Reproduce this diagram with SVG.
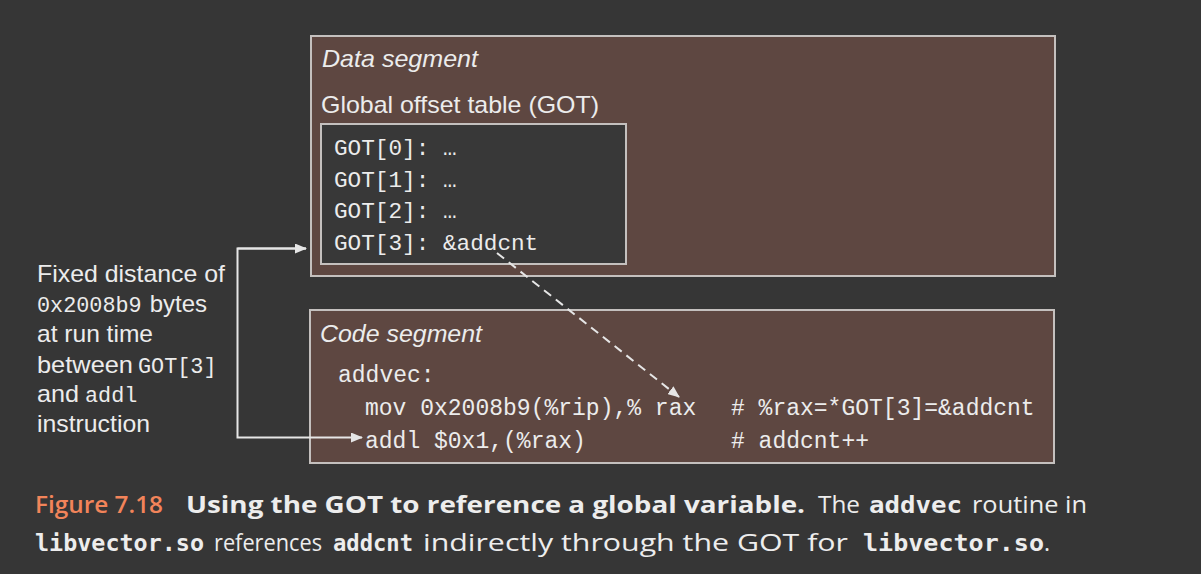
<svg xmlns="http://www.w3.org/2000/svg" width="1201" height="574" viewBox="0 0 1201 574">
  <style>
    .seg { fill: #5e4741; stroke: #c4c0be; stroke-width: 2; }
    .inner { fill: #383838; stroke: #c4c0be; stroke-width: 2; }
    .title { font-family: "Liberation Sans", Arial, sans-serif; font-style: italic; font-size: 24px; fill: #ececec; }
    .sans { font-family: "Liberation Sans", Arial, sans-serif; font-size: 24px; fill: #ececec; }
    .mono { font-family: "Liberation Mono", "Courier New", monospace; fill: #ececec; }
    .conn { fill: none; stroke: #e6e6e6; stroke-width: 2; }
    .dash { fill: none; stroke: #e6e6e6; stroke-width: 2; stroke-dasharray: 9 6; }
    .cap { font-family: "Open Sans", "Noto Sans", sans-serif; font-size: 23px; fill: #ededed; }
    .capb { font-weight: 700; }
    .capm { font-family: "DejaVu Sans Mono", monospace; font-weight: 700; }
  </style>
  <defs>
    <marker id="arrow" markerWidth="12" markerHeight="10" refX="11" refY="5" orient="auto" markerUnits="userSpaceOnUse">
      <path d="M0,0 L12,5 L0,10 Z" fill="#e6e6e6"/>
    </marker>
  </defs>
  <rect width="1201" height="574" fill="#363636"/>

  <g id="data-segment">
    <rect class="seg" x="311" y="36" width="744" height="240"/>
    <text class="title" x="322" y="67" textLength="156" lengthAdjust="spacingAndGlyphs">Data segment</text>
    <text class="sans" x="321" y="113" textLength="278" lengthAdjust="spacingAndGlyphs">Global offset table (GOT)</text>
  </g>

  <g id="got-table">
    <rect class="inner" x="321" y="124" width="305" height="140"/>
    <text class="mono" font-size="22.7" x="334" y="155">GOT[0]: …</text>
    <text class="mono" font-size="22.7" x="334" y="187">GOT[1]: …</text>
    <text class="mono" font-size="22.7" x="334" y="218">GOT[2]: …</text>
    <text class="mono" font-size="22.7" x="334" y="250">GOT[3]: &amp;addcnt</text>
  </g>

  <g id="code-segment">
    <rect class="seg" x="310" y="310" width="744" height="153"/>
    <text class="title" x="320" y="342" textLength="162" lengthAdjust="spacingAndGlyphs">Code segment</text>
    <text class="mono" font-size="23" x="338" y="382">addvec:</text>
    <text class="mono" font-size="23" x="365" y="415">mov 0x2008b9(%rip),% rax</text>
    <text class="mono" font-size="23" x="731" y="415"># %rax=*GOT[3]=&amp;addcnt</text>
    <text class="mono" font-size="23" x="365" y="448">addl $0x1,(%rax)</text>
    <text class="mono" font-size="23" x="731" y="448"># addcnt++</text>
  </g>

  <g id="annotation">
    <text class="sans" x="37" y="282" textLength="188" lengthAdjust="spacingAndGlyphs">Fixed distance of</text>
    <text class="sans" y="312"><tspan class="mono" x="37" font-size="21.8">0x2008b9</tspan><tspan x="143" textLength="64" lengthAdjust="spacingAndGlyphs"> bytes</tspan></text>
    <text class="sans" x="37" y="342" textLength="116" lengthAdjust="spacingAndGlyphs">at run time</text>
    <text class="sans" y="372.5"><tspan x="37" textLength="96" lengthAdjust="spacingAndGlyphs">between</tspan><tspan class="mono" x="138" font-size="21.8">GOT[3]</tspan></text>
    <text class="sans" y="402"><tspan x="37" textLength="42" lengthAdjust="spacingAndGlyphs">and</tspan><tspan class="mono" x="85" font-size="21.8">addl</tspan></text>
    <text class="sans" x="37" y="432" textLength="113" lengthAdjust="spacingAndGlyphs">instruction</text>
  </g>

  <g id="connectors">
    <path class="conn" d="M306,248.5 H237.5 V437.5 H362" marker-end="url(#arrow)"/>
    <path class="conn" d="M237.5,248.5 H306" marker-end="url(#arrow)"/>
    <path class="dash" d="M497,253 L679,397" marker-end="url(#arrow)"/>
  </g>

  <g id="caption">
    <text class="cap" y="513">
      <tspan x="35" fill="#f2845a" font-weight="600" textLength="128" lengthAdjust="spacingAndGlyphs">Figure 7.18</tspan>
      <tspan x="186" class="capb" textLength="619" lengthAdjust="spacingAndGlyphs">Using the GOT to reference a global variable.</tspan>
      <tspan x="818" textLength="42" lengthAdjust="spacingAndGlyphs">The</tspan>
      <tspan x="869" class="capm" textLength="93" lengthAdjust="spacingAndGlyphs">addvec</tspan>
      <tspan x="972" textLength="115" lengthAdjust="spacingAndGlyphs">routine in</tspan>
    </text>
    <text class="cap" y="551">
      <tspan x="35" class="capm" textLength="169" lengthAdjust="spacingAndGlyphs">libvector.so</tspan>
      <tspan x="214" textLength="108" lengthAdjust="spacingAndGlyphs">references</tspan>
      <tspan x="333" class="capm" textLength="80" lengthAdjust="spacingAndGlyphs">addcnt</tspan>
      <tspan x="423" textLength="425" lengthAdjust="spacingAndGlyphs">indirectly through the GOT for</tspan>
      <tspan x="863" class="capm" textLength="181" lengthAdjust="spacingAndGlyphs">libvector.so</tspan>
      <tspan x="1044">.</tspan>
    </text>
  </g>
</svg>
